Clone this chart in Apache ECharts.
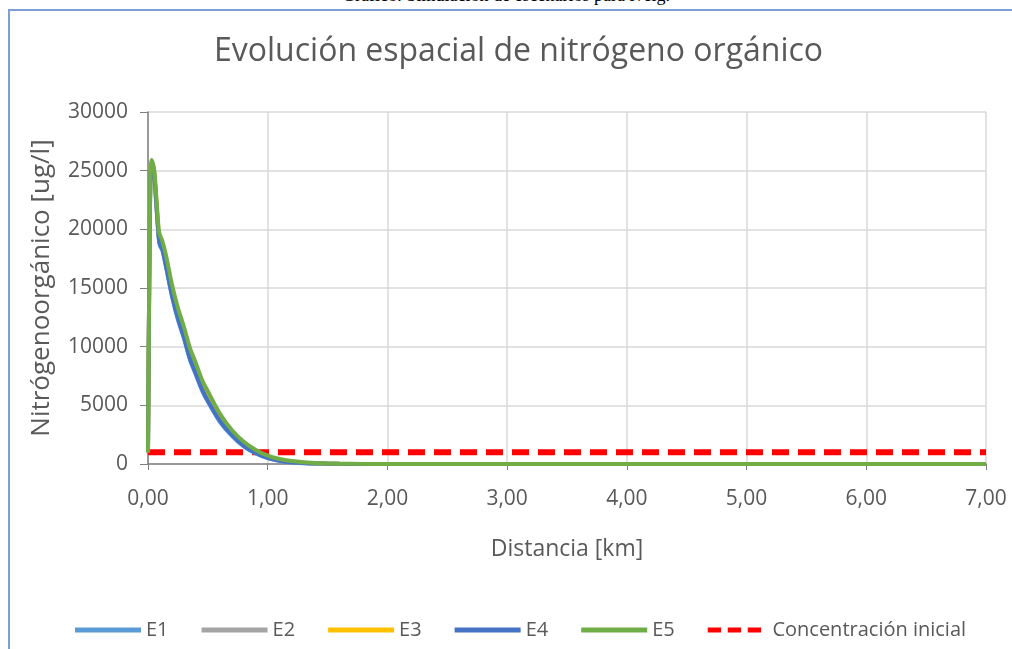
<!DOCTYPE html>
<html>
<head>
<meta charset="utf-8">
<script src="https://cdn.jsdelivr.net/npm/echarts@6/dist/echarts.min.js"></script>
<style>
html,body{margin:0;padding:0;background:#fff;width:1012px;height:649px;overflow:hidden;}
#frame{position:absolute;left:8px;top:9px;width:1010px;height:650px;border-left:2px solid #7e9fd5;border-top:2px solid #7e9fd5;box-sizing:border-box;}
#cap{position:absolute;left:0;width:1012px;top:-15px;text-align:center;font-family:"Liberation Serif",serif;font-size:18px;color:#000;}
#chart{position:absolute;left:0;top:0;width:1012px;height:649px;}
</style>
</head>
<body>
<div id="cap">Gráfico: Simulación de escenarios para ivelg.</div>
<div id="frame"></div>
<div id="chart"></div>
<script>
const distances = [0, 0.01, 0.02, 0.03, 0.05, 0.07, 0.09, 0.10, 0.12, 0.15, 0.20, 0.25, 0.30, 0.35, 0.40, 0.45, 0.50, 0.60, 0.70, 0.80, 0.90, 1.00, 1.10, 1.20, 1.30, 1.40, 1.50, 1.60, 1.80, 2.00, 3.00, 4.00, 5.00, 6.00, 7.00];
const e1 = [1000, 15000, 24500, 25500, 24800, 22000, 19200, 18600, 18200, 16800, 14300, 12300, 10700, 8900, 7600, 6300, 5300, 3600, 2400, 1500, 900, 500, 260, 130, 70, 40, 20, 10, 5, 0, 0, 0, 0, 0, 0];
const e2 = [1000, 15200, 24700, 25600, 24900, 22200, 19400, 18900, 18500, 17100, 14600, 12600, 11000, 9200, 7900, 6600, 5600, 3800, 2600, 1600, 1000, 560, 300, 160, 90, 50, 25, 12, 5, 0, 0, 0, 0, 0, 0];
const e3 = [1000, 15300, 24800, 25700, 25000, 22400, 19600, 19100, 18700, 17400, 14900, 12900, 11300, 9500, 8200, 6900, 5900, 4000, 2700, 1700, 1050, 620, 340, 190, 110, 60, 30, 15, 6, 0, 0, 0, 0, 0, 0];
const e4 = [1000, 15100, 24600, 25500, 24850, 22100, 19300, 18700, 18300, 16900, 14400, 12400, 10800, 9000, 7700, 6400, 5400, 3700, 2500, 1550, 950, 530, 280, 140, 80, 45, 22, 11, 5, 0, 0, 0, 0, 0, 0];
const e5 = [1000, 15500, 25000, 25900, 25200, 22700, 19900, 19500, 19000, 17800, 15300, 13300, 11700, 9900, 8600, 7200, 6200, 4300, 2900, 1900, 1200, 720, 420, 250, 150, 90, 50, 25, 10, 0, 0, 0, 0, 0, 0];
const initialX = [0, 7];
const initialY = [1000, 1000];
const seriesNames = ["E1", "E2", "E3", "E4", "E5", "Concentración inicial"];
const yTicks = [0, 5000, 10000, 15000, 20000, 25000, 30000];

const pairs = (xs, ys) => xs.map((x, i) => [x, ys[i]]);
const colors = ["#5b9bd5", "#a5a5a5", "#ffc000", "#4472c4", "#70ad47", "#ff0000"];
const gray = "#595959";
const font = "Open Sans";

const chart = echarts.init(document.getElementById('chart'));
const lineSeries = [e1, e2, e3, e4, e5].map((arr, i) => ({
  name: seriesNames[i], type: 'line', data: pairs(distances, arr),
  showSymbol: false, symbol: 'none', smooth: 0.3,
  lineStyle: { width: 4, color: colors[i] }, itemStyle: { color: colors[i] }
}));
lineSeries.push({
  name: seriesNames[5], type: 'line', data: pairs(initialX, initialY),
  showSymbol: false, symbol: 'none', z: 1,
  lineStyle: { width: 6, color: colors[5], type: [17, 9] }, itemStyle: { color: colors[5] }
});

const dashIcon = 'path://M0,0h16v6h-16z M24,0h16v6h-16z M48,0h16v6h-16z';

chart.setOption({
  animation: false,
  textStyle: { fontFamily: font },
  title: {
    text: 'Evolución espacial de nitrógeno orgánico',
    left: 209, top: 31,
    textStyle: { fontFamily: font, fontSize: 32, fontWeight: 'normal', color: gray }
  },
  grid: { left: 148, right: 26, top: 112, bottom: 185 },
  legend: {
    bottom: 4, left: 70, itemWidth: 66, itemHeight: 5, itemGap: 33,
    data: seriesNames.map((n, i) => ({ name: n, icon: i === 5 ? dashIcon : 'rect' })),
    textStyle: { fontFamily: font, fontSize: 20, color: gray }
  },
  xAxis: {
    type: 'value', min: 0, max: 7, interval: 1,
    name: 'Distancia [km]', nameLocation: 'middle', nameGap: 74,
    nameTextStyle: { fontFamily: font, fontSize: 23, color: gray },
    axisLine: { show: true, onZero: false, lineStyle: { color: '#808080', width: 1.5 } },
    axisTick: { show: true, length: 6, lineStyle: { color: '#808080' } },
    axisLabel: { fontFamily: font, fontSize: 21, color: gray, margin: 25,
      formatter: v => v.toFixed(2).replace('.', ',') },
    splitLine: { show: true, lineStyle: { color: '#d9d9d9', width: 1.5 } }
  },
  yAxis: {
    type: 'value', min: 0, max: 30000, interval: 5000,
    name: 'Nitrógenoorgánico [ug/l]', nameLocation: 'middle', nameGap: 93,
    nameTextStyle: { fontFamily: font, fontSize: 26, color: gray },
    axisLine: { show: true, lineStyle: { color: '#808080', width: 1.5 } },
    axisTick: { show: true, length: 8, lineStyle: { color: '#808080' } },
    axisLabel: { fontFamily: font, fontSize: 21, color: gray, margin: 20,
      customValues: yTicks, formatter: v => String(v) },
    splitLine: { show: true, lineStyle: { color: '#d9d9d9', width: 1.5 } }
  },
  series: lineSeries
});
</script>
</body>
</html>
